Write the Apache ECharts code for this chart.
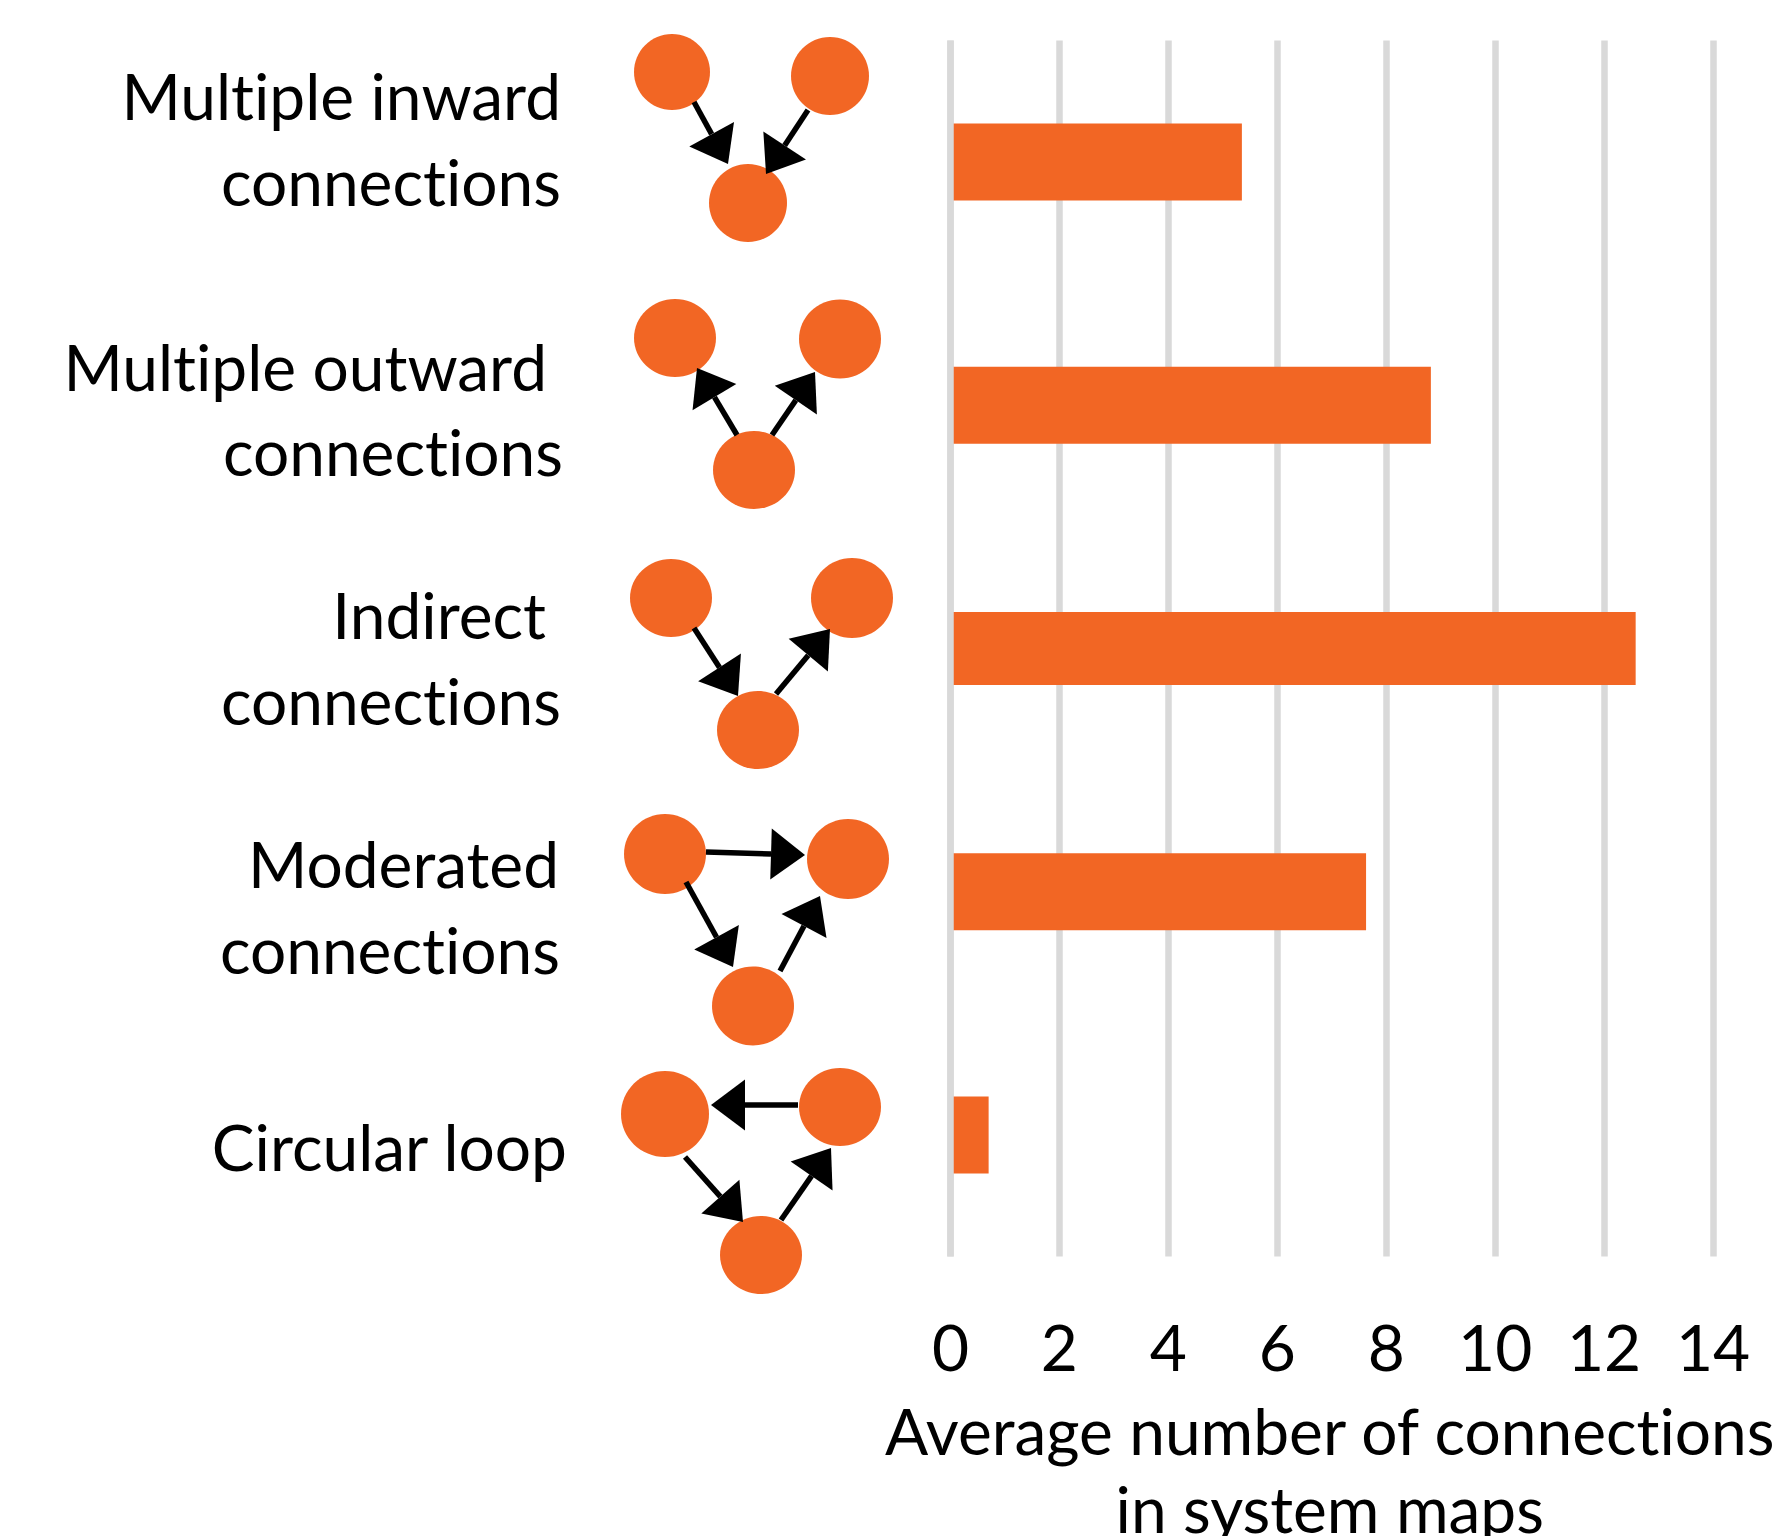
<!DOCTYPE html>
<html>
<head>
<meta charset="utf-8">
<title>Average number of connections in system maps</title>
<style>
    html, body { margin: 0; background: #fff; }
    #main { width: 1792px; height: 1536px; }
    /* zrender的font简写会重置连字设置，所以要important */
    #main text { font-variant-ligatures: none !important; font-feature-settings: "liga" 0 !important; }
</style>
<script src="https://cdn.jsdelivr.net/npm/echarts@6/dist/echarts.min.js"></script>
</head>
<body>
<div id="main"></div>
<script>
// 数据
const categories = ['Multiple inward connections', 'Multiple outward connections', 'Indirect connections', 'Moderated connections', 'Circular loop'];
const connections = [5.35, 8.82, 12.58, 7.63, 0.7];
const axisMin = 0;
const axisMax = 14;
const axisStep = 2;
const axisTitle = 'Average number of connections\nin system maps';

// 左边的文字，每行一个元素 [文字, 右端x, 基线y]
const labelLines = [
    ['Multiple inward', 561, 127], ['connections', 561, 213],
    ['Multiple outward', 547, 398], ['connections', 563, 483],
    ['Indirect', 546, 646], ['connections', 561, 732],
    ['Moderated', 559, 895], ['connections', 560, 981],
    ['Circular loop', 567, 1178]
];

// 小示意图：椭圆 [cx, cy, rx, ry]，箭头 [起点x, 起点y, 尖端x, 尖端y]
const motifNodes = [
    [672, 72, 38, 38], [830, 76, 39, 39], [748, 203, 39, 39],
    [675, 338, 41, 39], [840, 339, 41, 39.5], [754, 470, 41, 39],
    [671, 598, 41, 39], [852, 598, 41, 40], [758, 730, 41, 39],
    [665, 854, 41, 40], [848, 859, 41, 40], [753, 1006, 41, 39.5],
    [665, 1114, 44, 43], [840, 1107, 41, 39], [761, 1255, 41, 39]
];
const motifArrows = [
    [694, 102, 728, 164], [808, 110, 766, 174],
    [737, 435, 697, 368], [772, 435, 815, 372],
    [694, 628, 738, 696], [776, 694, 830, 629],
    [706, 852, 805, 855], [686, 882, 733, 967], [780, 971, 820, 896],
    [798, 1105, 711, 1105], [685, 1157, 743, 1222], [781, 1220, 831, 1148]
];

const orange = '#f26624';
const fontName = 'Lato';
const fontSize = 64;

function arrowShapes(a) {
    let dx = a[2] - a[0], dy = a[3] - a[1];
    let len = Math.sqrt(dx * dx + dy * dy);
    let ux = dx / len, uy = dy / len;
    let headLen = 34, headHalf = 25.5;
    let bx = a[2] - ux * headLen, by = a[3] - uy * headLen;
    return [{
        type: 'line',
        shape: { x1: a[0], y1: a[1], x2: bx, y2: by },
        style: { stroke: '#000', lineWidth: 5.5 }
    }, {
        type: 'polygon',
        shape: { points: [[a[2], a[3]], [bx - uy * headHalf, by + ux * headHalf], [bx + uy * headHalf, by - ux * headHalf]] },
        style: { fill: '#000' }
    }];
}

let graphics = [];
labelLines.forEach(function (l) {
    graphics.push({
        type: 'text',
        x: l[1],
        y: l[2],
        style: { text: l[0], fill: '#000', font: fontSize + 'px ' + fontName, textAlign: 'right', textVerticalAlign: 'bottom' }
    });
});
motifNodes.forEach(function (n) {
    graphics.push({
        type: 'ellipse',
        shape: { cx: n[0], cy: n[1], rx: n[2], ry: n[3] },
        style: { fill: orange }
    });
});
motifArrows.forEach(function (a) {
    graphics = graphics.concat(arrowShapes(a));
});

// 用svg渲染，这样css可以关掉连字
let myChart = echarts.init(document.getElementById('main'), null, { renderer: 'svg' });

let option = {
    animation: false,
    backgroundColor: '#fff',
    grid: { left: 950.5, width: 762.5, top: 40.5, height: 1216, outerBoundsMode: 'none' },
    xAxis: {
        type: 'value',
        min: axisMin,
        max: axisMax,
        interval: axisStep,
        axisLine: { show: false },
        axisTick: { show: false },
        splitLine: { show: true, lineStyle: { color: '#d9d9d9', width: 6.5 } },
        axisLabel: { color: '#000', fontFamily: fontName, fontSize: fontSize, margin: 58 },
        name: axisTitle,
        nameLocation: 'middle',
        nameGap: 134.5,
        nameMoveOverlap: false,
        nameTextStyle: { color: '#000', fontFamily: fontName, fontSize: fontSize, lineHeight: 78, padding: [0, 4, 0, 0] }
    },
    yAxis: [{
        // 0刻度那根线压在柱子上面
        type: 'category',
        inverse: true,
        data: categories,
        z: 5,
        axisLine: { show: true, lineStyle: { color: '#d9d9d9', width: 6.5, cap: 'butt' } },
        axisTick: { show: false },
        axisLabel: { show: false },
        splitLine: { show: false }
    }, {
        // 中间那根柱子稍窄，单独一根轴
        type: 'category',
        inverse: true,
        data: categories,
        show: false
    }],
    series: [{
        type: 'bar',
        yAxisIndex: 0,
        barWidth: 77,
        itemStyle: { color: orange },
        data: connections.map(function (v, i) { return i === 2 ? null : v; })
    }, {
        type: 'bar',
        yAxisIndex: 1,
        barWidth: 73,
        itemStyle: { color: orange },
        data: connections.map(function (v, i) { return i === 2 ? v : null; })
    }],
    graphic: graphics
};

myChart.setOption(option);
</script>
</body>
</html>
